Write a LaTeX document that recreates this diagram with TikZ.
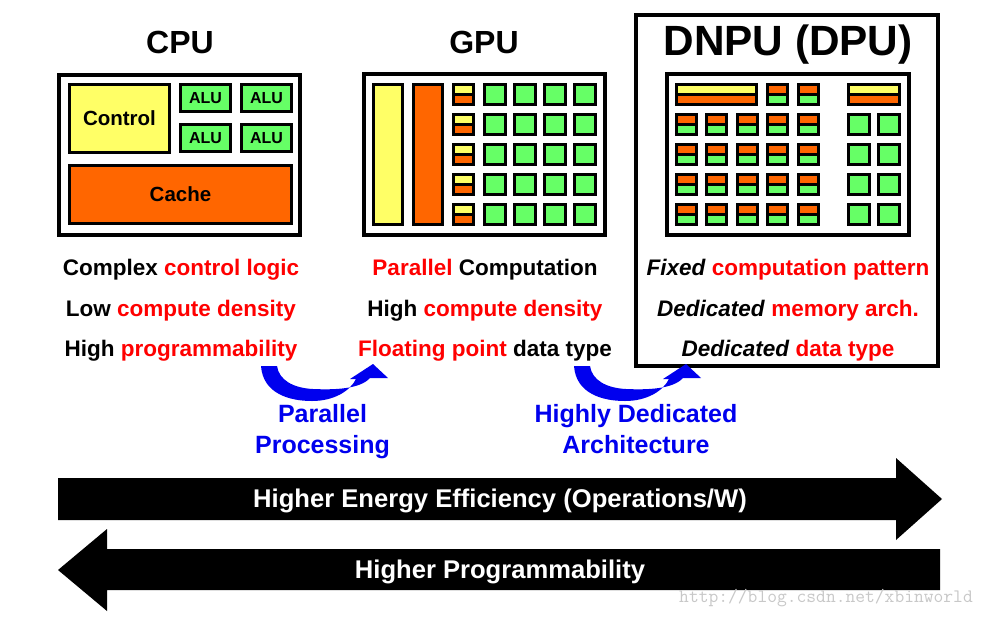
\documentclass[tikz,border=0pt]{standalone}
\usepackage{fontspec}
\setmainfont{Liberation Sans}
\definecolor{cyel}{RGB}{255,255,102}
\definecolor{cora}{RGB}{255,102,0}
\definecolor{cgrn}{RGB}{102,255,102}
\definecolor{cred}{RGB}{255,0,0}
\definecolor{cblu}{RGB}{0,0,238}
\definecolor{cwm}{RGB}{200,200,200}
\newcommand{\rd}[1]{\textcolor{cred}{#1}}
% split cell: x y w topcolour bottomcolour (outer edges, height 22.5)
\newcommand{\scell}[5]{%
  \fill[#4] (#1,#2) rectangle ({#1+#3},{#2+11.25});
  \fill[#5] ({#1},{#2+11.25}) rectangle ({#1+#3},{#2+22.5});
  \draw[cellline] (#1,{#2+11.25}) -- ({#1+#3},{#2+11.25});
  \draw[cellline] ({#1+1.5},{#2+1.5}) rectangle ({#1+#3-1.5},{#2+21});
}
\newcommand{\gcell}[3]{%
  \draw[cellline,fill=cgrn] ({#1+1.5},{#2+1.5}) rectangle ({#1+#3-1.5},{#2+21});
}
\begin{document}
\begin{tikzpicture}[x=1pt,y=-1pt,
  cellline/.style={line width=3pt,line join=miter},
  outerline/.style={line width=4pt},
  title/.style={font=\fontsize{32}{36}\selectfont\bfseries,anchor=base},
  rowtxt/.style={font=\fontsize{22.5}{26}\selectfont\bfseries,anchor=base},
  bluetxt/.style={font=\fontsize{25}{29}\selectfont\bfseries,text=cblu,anchor=base},
  arrtxt/.style={font=\fontsize{25.6}{29}\selectfont\bfseries,text=white,anchor=base},
  bigarrow/.style={fill=black},
  bluearr/.style={fill=cblu}]
\useasboundingbox (0,0) rectangle (987,616);
\fill[white] (0,0) rectangle (987,616);

% ---------- titles ----------
\node[title] (tcpu) at (180,53) {CPU};
\node[title] (tgpu) at (484,53) {GPU};
\node[title,font=\fontsize{42.3}{46}\selectfont\bfseries] (tdnpu) at (788,55) {DNPU (DPU)};

% ---------- CPU ----------
\draw[outerline] (59,75) rectangle (300,235);
\draw[cellline,fill=cyel] (69.5,84.5) rectangle (169.5,152.5);
\node[font=\fontsize{20.5}{24}\selectfont\bfseries] (ctrl) at (119.5,118.5) {Control};
\foreach \xx/\yy/\nm in {180.5/84.5/a,241.5/84.5/b,180.5/124.5/c,241.5/124.5/d}{
  \draw[cellline,fill=cgrn] (\xx,\yy) rectangle ({\xx+50},{\yy+27});
  \node[font=\fontsize{16}{18}\selectfont\bfseries] (alu\nm) at ({\xx+25},{\yy+13.5}) {ALU};
}
\draw[cellline,fill=cora] (69.5,165.5) rectangle (291.5,223.5);
\node[font=\fontsize{20.5}{24}\selectfont\bfseries] (cache) at (180.5,194.5) {Cache};

% ---------- GPU ----------
\draw[outerline] (364,74) rectangle (605,235);
\draw[cellline,fill=cyel] (373.5,84.5) rectangle (402.5,224.5);
\draw[cellline,fill=cora] (413.5,84.5) rectangle (442.5,224.5);
\foreach \yy in {83,113,143,173,203}{
  \scell{452}{\yy}{23}{cyel}{cora}
  \foreach \xx in {483,513,543,573}{
    \gcell{\xx}{\yy}{24}
  }
}

% ---------- DNPU ----------
\draw[line width=4.5pt] (636,15) rectangle (938,366);
\draw[outerline] (667,74) rectangle (909,235);
\scell{675}{83}{83}{cyel}{cora}
\scell{847}{83}{54}{cyel}{cora}
\scell{766}{83}{23}{cora}{cgrn}
\scell{797}{83}{23}{cora}{cgrn}
\foreach \yy in {113,143,173,203}{
  \foreach \xx in {675,705,736,766,797}{
    \scell{\xx}{\yy}{23}{cora}{cgrn}
  }
  \gcell{847}{\yy}{24}
  \gcell{877}{\yy}{24}
}

% ---------- description rows ----------
\node[rowtxt] (c1) at (181,275) {Complex \rd{control logic}};
\node[rowtxt] (c2) at (181,316) {Low \rd{compute density}};
\node[rowtxt] (c3) at (181,356) {High \rd{programmability}};
\node[rowtxt] (g1) at (485,275) {\rd{Parallel} Computation};
\node[rowtxt] (g2) at (485,316) {High \rd{compute density}};
\node[rowtxt] (g3) at (485,356) {\rd{Floating point} data type};
\node[rowtxt] (d1) at (788,275) {\textit{Fixed} \rd{computation pattern}};
\node[rowtxt] (d2) at (788,316) {\textit{Dedicated} \rd{memory arch.}};
\node[rowtxt] (d3) at (788,356) {\textit{Dedicated} \rd{data type}};

% ---------- blue curved arrows ----------
\foreach \sx in {0,313}{
\begin{scope}[xshift=\sx pt]
\fill[bluearr] (261,366) .. controls (263,394) and (290,401) .. (312,401)
  .. controls (334,401) and (350,391) .. (356,379)
  -- (350,379) -- (373,364) -- (388,378) -- (370,378)
  .. controls (360,389) and (335,390) .. (313,389)
  .. controls (293,388) and (279,380) .. (277,366) -- cycle;
\end{scope}
}
\node[bluetxt] (pp1) at (322.5,422) {Parallel};
\node[bluetxt] (pp2) at (322.5,453) {Processing};
\node[bluetxt] (hd1) at (636,422) {Highly Dedicated};
\node[bluetxt] (hd2) at (636,453) {Architecture};

% ---------- big arrows ----------
\fill[bigarrow] (58,478) -- (896,478) -- (896,458) -- (942,499) -- (896,540)
  -- (896,520) -- (58,520) -- cycle;
\node[arrtxt] (ee) at (500,507) {Higher Energy Efficiency (Operations/W)};
\fill[bigarrow] (940,549) -- (107,549) -- (107,529) -- (58,570) -- (107,611)
  -- (107,590) -- (940,590) -- cycle;
\node[arrtxt] (hp) at (500,578) {Higher Programmability};

% ---------- watermark ----------
\node[font=\ttfamily\fontsize{19}{21}\selectfont,text=cwm,anchor=base] (wm) at (826,602) {http://blog.csdn.net/xbinworld};
\end{tikzpicture}
\end{document}
